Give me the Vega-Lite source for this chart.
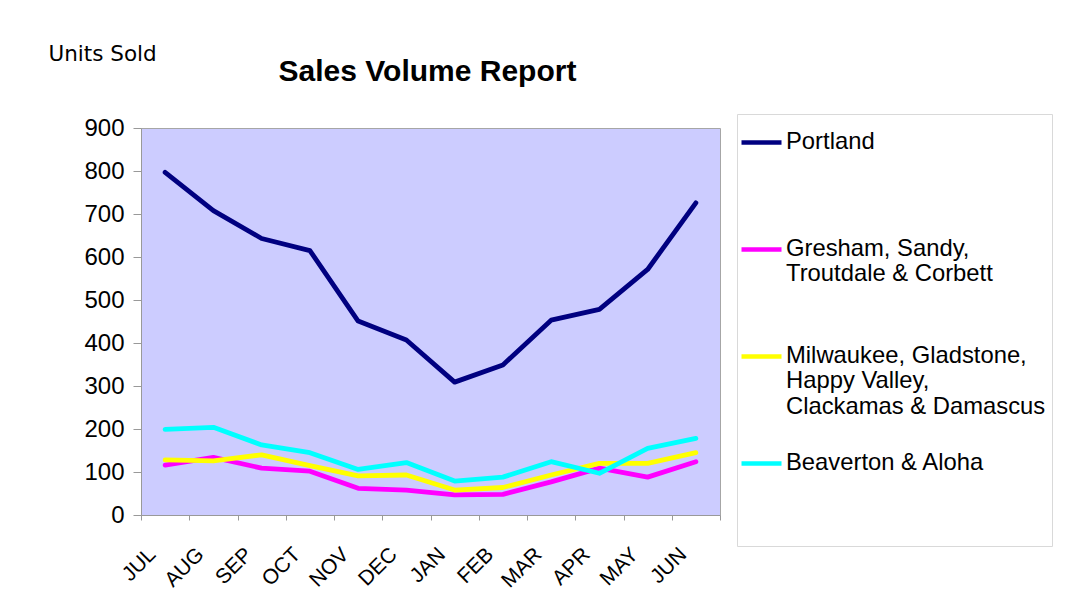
{
  "$schema": "https://vega.github.io/schema/vega-lite/v6.json",
  "width": 579,
  "height": 387,
  "autosize": {"type": "none"},
  "padding": {"left": 141, "top": 128, "right": 366, "bottom": 101},
  "background": "white",
  "title": {
    "text": "Sales Volume Report",
    "font": "Liberation Sans",
    "fontSize": 30,
    "fontWeight": "bold",
    "color": "black",
    "anchor": "middle",
    "frame": "group",
    "offset": -44,
    "dx": -3
  },
  "data": {
    "values": [
      {"month": "JUL", "region": "Portland", "units": 797},
      {"month": "AUG", "region": "Portland", "units": 708},
      {"month": "SEP", "region": "Portland", "units": 643},
      {"month": "OCT", "region": "Portland", "units": 615},
      {"month": "NOV", "region": "Portland", "units": 451},
      {"month": "DEC", "region": "Portland", "units": 407},
      {"month": "JAN", "region": "Portland", "units": 309},
      {"month": "FEB", "region": "Portland", "units": 349},
      {"month": "MAR", "region": "Portland", "units": 453},
      {"month": "APR", "region": "Portland", "units": 478},
      {"month": "MAY", "region": "Portland", "units": 571},
      {"month": "JUN", "region": "Portland", "units": 726},
      {"month": "JUL", "region": "Gresham, Sandy, Troutdale & Corbett", "units": 116},
      {"month": "AUG", "region": "Gresham, Sandy, Troutdale & Corbett", "units": 134},
      {"month": "SEP", "region": "Gresham, Sandy, Troutdale & Corbett", "units": 109},
      {"month": "OCT", "region": "Gresham, Sandy, Troutdale & Corbett", "units": 102},
      {"month": "NOV", "region": "Gresham, Sandy, Troutdale & Corbett", "units": 62},
      {"month": "DEC", "region": "Gresham, Sandy, Troutdale & Corbett", "units": 58},
      {"month": "JAN", "region": "Gresham, Sandy, Troutdale & Corbett", "units": 47},
      {"month": "FEB", "region": "Gresham, Sandy, Troutdale & Corbett", "units": 48},
      {"month": "MAR", "region": "Gresham, Sandy, Troutdale & Corbett", "units": 77},
      {"month": "APR", "region": "Gresham, Sandy, Troutdale & Corbett", "units": 109},
      {"month": "MAY", "region": "Gresham, Sandy, Troutdale & Corbett", "units": 88},
      {"month": "JUN", "region": "Gresham, Sandy, Troutdale & Corbett", "units": 124},
      {"month": "JUL", "region": "Milwaukee, Gladstone, Happy Valley, Clackamas & Damascus", "units": 128},
      {"month": "AUG", "region": "Milwaukee, Gladstone, Happy Valley, Clackamas & Damascus", "units": 126},
      {"month": "SEP", "region": "Milwaukee, Gladstone, Happy Valley, Clackamas & Damascus", "units": 140},
      {"month": "OCT", "region": "Milwaukee, Gladstone, Happy Valley, Clackamas & Damascus", "units": 115},
      {"month": "NOV", "region": "Milwaukee, Gladstone, Happy Valley, Clackamas & Damascus", "units": 91},
      {"month": "DEC", "region": "Milwaukee, Gladstone, Happy Valley, Clackamas & Damascus", "units": 93},
      {"month": "JAN", "region": "Milwaukee, Gladstone, Happy Valley, Clackamas & Damascus", "units": 58},
      {"month": "FEB", "region": "Milwaukee, Gladstone, Happy Valley, Clackamas & Damascus", "units": 64},
      {"month": "MAR", "region": "Milwaukee, Gladstone, Happy Valley, Clackamas & Damascus", "units": 93},
      {"month": "APR", "region": "Milwaukee, Gladstone, Happy Valley, Clackamas & Damascus", "units": 120},
      {"month": "MAY", "region": "Milwaukee, Gladstone, Happy Valley, Clackamas & Damascus", "units": 120},
      {"month": "JUN", "region": "Milwaukee, Gladstone, Happy Valley, Clackamas & Damascus", "units": 145},
      {"month": "JUL", "region": "Beaverton & Aloha", "units": 199},
      {"month": "AUG", "region": "Beaverton & Aloha", "units": 204},
      {"month": "SEP", "region": "Beaverton & Aloha", "units": 163},
      {"month": "OCT", "region": "Beaverton & Aloha", "units": 145},
      {"month": "NOV", "region": "Beaverton & Aloha", "units": 106},
      {"month": "DEC", "region": "Beaverton & Aloha", "units": 122},
      {"month": "JAN", "region": "Beaverton & Aloha", "units": 79},
      {"month": "FEB", "region": "Beaverton & Aloha", "units": 88},
      {"month": "MAR", "region": "Beaverton & Aloha", "units": 124},
      {"month": "APR", "region": "Beaverton & Aloha", "units": 97},
      {"month": "MAY", "region": "Beaverton & Aloha", "units": 155},
      {"month": "JUN", "region": "Beaverton & Aloha", "units": 178}
    ]
  },
  "mark": {"type": "line", "strokeWidth": 4.8, "strokeJoin": "round", "strokeCap": "round"},
  "encoding": {
    "x": {
      "field": "month",
      "type": "ordinal",
      "sort": ["JUL", "AUG", "SEP", "OCT", "NOV", "DEC", "JAN", "FEB", "MAR", "APR", "MAY", "JUN"],
      "scale": {"type": "band", "paddingInner": 0, "paddingOuter": 0},
      "bandPosition": 0.5,
      "axis": {
        "title": null,
        "labelAngle": -45,
        "labelAlign": "right",
        "labelBaseline": "middle",
        "labelFont": "Liberation Sans",
        "labelFontSize": 21,
        "labelColor": "black",
        "labelPadding": 31,
        "labelOffset": -13,
        "tickBand": "extent",
        "tickSize": 5,
        "tickColor": "#999999",
        "domainColor": "#999999",
        "grid": false
      }
    },
    "y": {
      "field": "units",
      "type": "quantitative",
      "scale": {"domain": [0, 900], "nice": false},
      "axis": {
        "values": [0, 100, 200, 300, 400, 500, 600, 700, 800, 900],
        "grid": false,
        "labelFont": "Liberation Sans",
        "labelFontSize": 24,
        "labelColor": "black",
        "labelPadding": 9,
        "tickSize": 8,
        "tickColor": "#999999",
        "domainColor": "#999999",
        "title": "Units Sold",
        "titleAngle": 0,
        "titleX": -93,
        "titleY": -74,
        "titleAlign": "left",
        "titleBaseline": "middle",
        "titleFont": "DejaVu Sans",
        "titleFontSize": 21.5,
        "titleFontWeight": "normal",
        "titleColor": "black"
      }
    },
    "color": {
      "field": "region",
      "type": "nominal",
      "scale": {
        "domain": ["Portland", "Gresham, Sandy, Troutdale & Corbett", "Milwaukee, Gladstone, Happy Valley, Clackamas & Damascus", "Beaverton & Aloha"],
        "range": ["#000080", "#FF00FF", "#FFFF00", "#00FFFF"]
      },
      "legend": {
        "orient": "none",
        "legendX": 596,
        "legendY": -14,
        "title": " ",
        "titleOrient": "bottom",
        "titlePadding": 55,
        "symbolType": "stroke",
        "symbolSize": 1600,
        "symbolStrokeWidth": 4.5,
        "symbolOffset": -4,
        "labelFont": "Liberation Sans",
        "labelFontSize": 23.8,
        "labelColor": "black",
        "labelLimit": 400,
        "labelOffset": 2,
        "labelBaseline": "top",
        "labelLineHeight": 26,
        "labelExpr": "datum.label == 'Gresham, Sandy, Troutdale & Corbett' ? ['Gresham, Sandy,', 'Troutdale & Corbett'] : datum.label == 'Milwaukee, Gladstone, Happy Valley, Clackamas & Damascus' ? ['Milwaukee, Gladstone,', 'Happy Valley,', 'Clackamas & Damascus'] : datum.label",
        "gridAlign": "all",
        "rowPadding": 22,
        "strokeColor": "#d9d9d9",
        "padding": 6,
        "encode": {"labels": {"update": {"dy": {"value": -13}}}}
      }
    }
  },
  "config": {
    "view": {"fill": "#CCCCFF", "stroke": "#a6a6a6"}
  }
}
